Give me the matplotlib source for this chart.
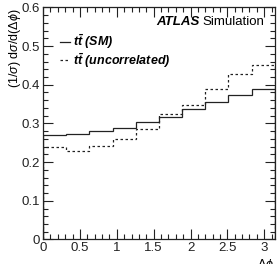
import numpy as np
import matplotlib
matplotlib.use("Agg")
from matplotlib import pyplot as plt
from matplotlib.ticker import MultipleLocator

plt.rcParams['font.family'] = ['Liberation Sans', 'DejaVu Sans']
plt.rcParams['mathtext.fontset'] = 'custom'
plt.rcParams['mathtext.rm'] = 'Liberation Sans'
plt.rcParams['mathtext.it'] = 'Liberation Sans:italic'
plt.rcParams['mathtext.bf'] = 'Liberation Sans:bold:italic'

# 10 bins over [0, pi]
edges = np.linspace(0, np.pi, 11)
sm = [0.269, 0.272, 0.280, 0.289, 0.304, 0.316, 0.338, 0.355, 0.373, 0.388]
uncorr = [0.239, 0.229, 0.242, 0.260, 0.286, 0.324, 0.348, 0.388, 0.428, 0.452]
labels = [r'$\mathbf{t\bar{t}}$ (SM)', r'$\mathbf{t\bar{t}}$ (uncorrelated)']

fig = plt.figure(figsize=(2.78, 2.64), dpi=100)
ax = fig.add_axes([0.155, 0.093, 0.833, 0.879])

ax.stairs(sm, edges, color='#222222', lw=0.9, label=labels[0])
ax.stairs(uncorr, edges, color='#222222', lw=0.9, ls=(0, (2, 2)), label=labels[1])

ax.set_xlim(0, np.pi)
ax.set_ylim(0, 0.6)
ax.xaxis.set_major_locator(MultipleLocator(0.5))
ax.xaxis.set_minor_locator(MultipleLocator(0.1))
ax.yaxis.set_major_locator(MultipleLocator(0.1))
ax.yaxis.set_minor_locator(MultipleLocator(0.02))
ax.xaxis.set_major_formatter(plt.FuncFormatter(lambda v, p: '%g' % v))
ax.yaxis.set_major_formatter(plt.FuncFormatter(lambda v, p: '%g' % v))

ax.tick_params(which='both', direction='in', top=True, right=True,
               labelsize=9.5, colors='#222222', pad=2)
ax.tick_params(which='major', length=7, width=0.8)
ax.tick_params(which='minor', length=3.5, width=0.8)
for s in ax.spines.values():
    s.set_linewidth(0.9)
    s.set_color('#222222')

ax.set_ylabel(r'(1/$\sigma$) d$\sigma$/d($\Delta\phi$)', fontsize=9, ha='right', va='center')
ax.yaxis.set_label_coords(-0.12, 0.995)
ax.set_xlabel(r'$\Delta\phi$', fontsize=9, ha='right', va='top')
ax.xaxis.set_label_coords(0.995, -0.075)

ax.text(0.677, 0.935, 'ATLAS', transform=ax.transAxes, fontsize=9.5,
        fontweight='bold', style='italic', ha='right', va='center')
ax.text(0.957, 0.935, 'Simulation', transform=ax.transAxes, fontsize=9.5,
        ha='right', va='center')

leg = ax.legend(loc='upper left', bbox_to_anchor=(0.05, 0.915), frameon=False,
                handlelength=0.8, handletextpad=0.3, labelspacing=0.0,
                borderaxespad=0, prop={'size': 9, 'weight': 'bold', 'style': 'italic'})

fig.savefig('out.png', dpi=100)
